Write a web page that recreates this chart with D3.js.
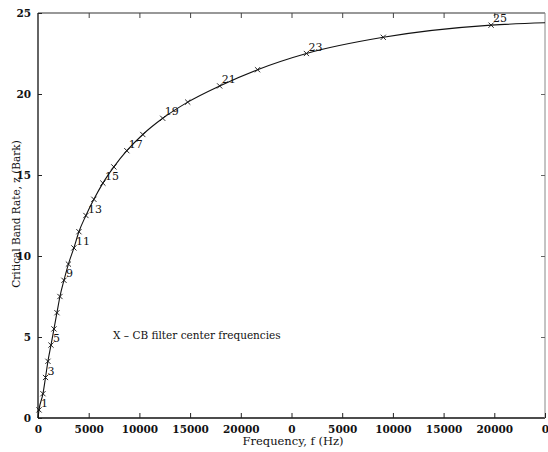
<!DOCTYPE html>
<html>
<head>
<meta charset="utf-8">
<script src="https://cdn.jsdelivr.net/npm/d3@7"></script>
<style>
  html, body { margin: 0; padding: 0; background: #fff; }
  svg text { font-family: "DejaVu Serif", "Liberation Serif", serif; fill: #111; }
</style>
</head>
<body>
<svg id="chart" width="548" height="452"></svg>
<script>
// Critical band filter center frequencies (axis units) and their band rates (Bark)
const bandFreq = [100, 490, 740, 980, 1280, 1575, 1870, 2165, 2560, 3000,
                  3540, 4035, 4725, 5510, 6400, 7480, 8760, 10335, 12300, 14765,
                  17915, 21650, 26470, 34050, 44685];
const bandBark = [0.5, 1.5, 2.5, 3.5, 4.5, 5.5, 6.5, 7.5, 8.5, 9.5,
                  10.5, 11.5, 12.5, 13.5, 14.5, 15.5, 16.5, 17.5, 18.5, 19.5,
                  20.5, 21.5, 22.5, 23.5, 24.25];
// Band numbers printed next to their markers
const bandLabels = [1, 3, 5, 9, 11, 13, 15, 17, 19, 21, 23, 25];
// Where the continuous curve starts and ends
const curveStart = [0, 0];
const curveEnd = [50000, 24.4];
// Axis ticks
const xTicks = [0, 5000, 10000, 15000, 20000, 25000, 30000, 35000, 40000, 45000, 50000];
const xTickLabels = ["0", "5000", "10000", "15000", "20000", "0", "5000", "10000", "15000", "20000", "0"];
const yTicks = [0, 5, 10, 15, 20, 25];

const svg = d3.select("#chart");
const L = 38, R = 545, T = 13, B = 418;

const x = d3.scaleLinear().domain([0, 50000]).range([L, R]);
const y = d3.scaleLinear().domain([0, 25]).range([B, T]);

// Frame
svg.append("line").attr("x1", L).attr("x2", L).attr("y1", T).attr("y2", B)
  .attr("stroke", "#111").attr("stroke-width", 1.3);
svg.append("line").attr("x1", L).attr("x2", R).attr("y1", B).attr("y2", B)
  .attr("stroke", "#111").attr("stroke-width", 1.3);
svg.append("line").attr("x1", L).attr("x2", R).attr("y1", T).attr("y2", T)
  .attr("stroke", "#333").attr("stroke-width", 1.2);
svg.append("line").attr("x1", R).attr("x2", R).attr("y1", T).attr("y2", B)
  .attr("stroke", "#888").attr("stroke-width", 1);

// Bottom axis: labels and inward ticks
const xAxis = d3.axisBottom(x).tickValues(xTicks).tickSize(-5).tickPadding(8)
  .tickFormat((d, i) => xTickLabels[i]);
const gx = svg.append("g").attr("transform", `translate(0,${B})`).call(xAxis);
gx.select(".domain").remove();
gx.selectAll("text").attr("font-size", 10.5).attr("font-weight", "bold").attr("fill", "#111");
gx.selectAll("line").attr("stroke", "#222");

// Top axis ticks
const gxt = svg.append("g").attr("transform", `translate(0,${T})`)
  .call(d3.axisTop(x).tickValues(xTicks.slice(1, -1)).tickSize(-5).tickFormat(""));
gxt.select(".domain").remove();
gxt.selectAll("line").attr("stroke", "#444");

// Left axis
const yAxis = d3.axisLeft(y).tickValues(yTicks).tickSize(-4).tickPadding(7);
const gy = svg.append("g").attr("transform", `translate(${L},0)`).call(yAxis);
gy.select(".domain").remove();
gy.selectAll("text").attr("font-size", 10.5).attr("font-weight", "bold").attr("fill", "#111");
gy.selectAll("line").attr("stroke", "#222");

// Right axis ticks
const gyr = svg.append("g").attr("transform", `translate(${R},0)`)
  .call(d3.axisRight(y).tickValues(yTicks.slice(1, -1)).tickSize(-4).tickFormat(""));
gyr.select(".domain").remove();
gyr.selectAll("line").attr("stroke", "#666");

// Curve through the band centers
const pts = [curveStart].concat(bandFreq.map((f, i) => [f, bandBark[i]]), [curveEnd]);
const line = d3.line().x(d => x(d[0])).y(d => y(d[1])).curve(d3.curveMonotoneX);
svg.append("path").datum(pts).attr("d", line)
  .attr("fill", "none").attr("stroke", "#111").attr("stroke-width", 1.1);

// X markers at filter center frequencies
const s = 2.6;
svg.append("g").selectAll("path").data(bandFreq).join("path")
  .attr("d", (f, i) => {
    const cx = x(f), cy = y(bandBark[i]);
    return `M${cx - s},${cy - s}L${cx + s},${cy + s}M${cx - s},${cy + s}L${cx + s},${cy - s}`;
  })
  .attr("stroke", "#111").attr("stroke-width", 0.9).attr("fill", "none");

// Band number labels
svg.append("g").selectAll("text").data(bandLabels).join("text")
  .attr("x", n => x(bandFreq[n - 1]) + 2)
  .attr("y", n => y(bandBark[n - 1]) - 3)
  .attr("font-size", 11)
  .text(n => n);

// Legend note
svg.append("text").attr("x", 113).attr("y", 339).attr("font-size", 10.5)
  .text("X \u2013 CB filter center frequencies");

// Axis titles
svg.append("text").attr("x", 293).attr("y", 445).attr("text-anchor", "middle")
  .attr("font-size", 11.5).text("Frequency, f (Hz)");
svg.append("text").attr("transform", "translate(20,214) rotate(-90)")
  .attr("text-anchor", "middle").attr("font-size", 10.5)
  .text("Critical Band Rate, z (Bark)");
</script>
</body>
</html>
